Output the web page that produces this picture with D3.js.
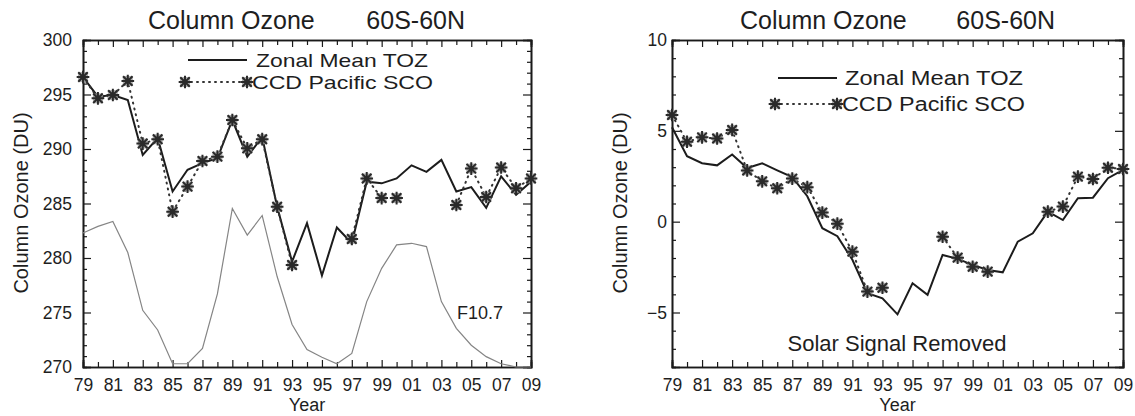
<!DOCTYPE html>
<html><head><meta charset="utf-8">
<script src="https://cdn.jsdelivr.net/npm/d3@7"></script>
<style>
body{margin:0;background:#fff}
svg{display:block}
text{font-family:"Liberation Sans",Arial,Helvetica,sans-serif;fill:#1e1e1e}
</style>
</head><body>
<svg id="c" width="1135" height="416"></svg>
<script>
// ---------- data ----------
const years = [1979,1980,1981,1982,1983,1984,1985,1986,1987,1988,1989,1990,1991,1992,1993,1994,1995,1996,1997,1998,1999,2000,2001,2002,2003,2004,2005,2006,2007,2008,2009];
const tickYears = [1979,1981,1983,1985,1987,1989,1991,1993,1995,1997,1999,2001,2003,2005,2007,2009];
const tickLabels = ["79","81","83","85","87","89","91","93","95","97","99","01","03","05","07","09"];

// left panel: column ozone (DU)
const zonalMeanTOZ = [296.6,294.8,294.95,294.5,289.45,291.0,286.1,288.1,288.7,289.15,292.66,289.3,291.1,284.7,279.66,283.2,278.4,282.8,281.35,287.0,286.85,287.3,288.5,287.9,289.0,286.1,286.5,284.6,287.5,285.8,287.0];
const ccdPacificSCO = [296.6,294.65,294.95,296.24,290.5,290.9,284.25,286.55,288.9,289.3,292.66,290.06,290.9,284.7,279.36,null,null,null,281.75,287.3,285.5,285.5,null,null,null,284.86,288.2,285.6,288.3,286.4,287.3];
const f107 = [282.3,282.9,283.35,280.5,275.2,273.4,270.3,270.3,271.7,276.7,284.55,282.1,283.9,278.3,273.9,271.6,270.9,270.3,271.25,276.0,279.05,281.2,281.35,281.05,276.0,273.55,272.0,270.95,270.3,270.0,270.0];
const leftYTicks = [270,275,280,285,290,295,300];
const leftYMinor = [271,272,273,274,276,277,278,279,281,282,283,284,286,287,288,289,291,292,293,294,296,297,298,299];

// right panel: solar signal removed (DU)
const zonalMeanTOZ_noSolar = [5.2,3.6,3.22,3.1,3.7,2.95,3.21,2.82,2.45,1.4,-0.36,-0.8,-2.1,-3.94,-4.22,-5.1,-3.39,-4.03,-1.83,-2.05,-2.38,-2.66,-2.79,-1.1,-0.64,0.55,0.09,1.29,1.32,2.39,2.85];
const ccdPacificSCO_noSolar = [5.87,4.4,4.64,4.58,5.05,2.82,2.22,1.84,2.37,1.9,0.5,-0.11,-1.65,-3.85,-3.64,null,null,null,-0.83,-1.98,-2.48,-2.75,null,null,null,0.55,0.83,2.48,2.35,2.97,2.9];
const rightYTicks = [-5,0,5,10];
const rightYMinor = [-8,-7,-6,-4,-3,-2,-1,1,2,3,4,6,7,8,9];

const titleLeftText = "Column Ozone", titleRightText = "60S-60N";
const yTitle = "Column Ozone (DU)", xTitle = "Year";
const legendNames = ["Zonal Mean TOZ","CCD Pacific SCO"];

// ---------- drawing ----------
const svg = d3.select("#c");
svg.append("rect").attr("width",1135).attr("height",416).attr("fill","#fff");

const asterisk8 = {draw(ctx, size){
  const r = Math.sqrt(size)/2, d = r*0.75;
  ctx.moveTo(-r,0); ctx.lineTo(r,0);
  ctx.moveTo(0,-r); ctx.lineTo(0,r);
  ctx.moveTo(-d,-d); ctx.lineTo(d,d);
  ctx.moveTo(-d,d); ctx.lineTo(d,-d);
}};
function marker(g, x, y){
  g.append("path").attr("transform",`translate(${x},${y})`)
    .attr("d", d3.symbol(d3.symbolSquare, 100)()).attr("fill","#9a9a9a").attr("opacity",0.8);
  g.append("path").attr("transform",`translate(${x},${y})`)
    .attr("d", d3.symbol(asterisk8, 160)()).attr("fill","none").attr("stroke","#2a2a2a").attr("stroke-width",2);
}

function panel(cfg){
  const x = d3.scaleLinear().domain([1979,2009]).range(cfg.xr);
  const y = d3.scaleLinear().domain(cfg.yd).range([367,40]);
  const g = svg.append("g");
  const [x0,x1] = cfg.xr, y0 = 40, y1 = 367;
  const minorYears = years.filter(v => !tickYears.includes(v));

  // axes (inward ticks)
  const fmt = d => tickLabels[tickYears.indexOf(d)];
  g.append("g").attr("transform",`translate(0,${y1})`)
    .call(d3.axisBottom(x).tickValues(tickYears).tickFormat(fmt).tickSize(-7).tickPadding(12));
  g.append("g").attr("transform",`translate(0,${y1})`)
    .call(d3.axisBottom(x).tickValues(minorYears).tickFormat("").tickSize(-5));
  g.append("g").attr("transform",`translate(0,${y0})`)
    .call(d3.axisTop(x).tickValues(tickYears).tickFormat("").tickSize(-7));
  g.append("g").attr("transform",`translate(0,${y0})`)
    .call(d3.axisTop(x).tickValues(minorYears).tickFormat("").tickSize(-5));
  g.append("g").attr("transform",`translate(${x0},0)`)
    .call(d3.axisLeft(y).tickValues(cfg.yTicks).tickFormat(d3.format("d")).tickSize(-8).tickPadding(cfg.yPad));
  g.append("g").attr("transform",`translate(${x0},0)`)
    .call(d3.axisLeft(y).tickValues(cfg.yMinor).tickFormat("").tickSize(-4));
  g.append("g").attr("transform",`translate(${x1},0)`)
    .call(d3.axisRight(y).tickValues(cfg.yTicks).tickFormat("").tickSize(-8));
  g.append("g").attr("transform",`translate(${x1},0)`)
    .call(d3.axisRight(y).tickValues(cfg.yMinor).tickFormat("").tickSize(-4));
  g.selectAll(".domain").attr("stroke","#1a1a1a").attr("stroke-width",1.6);
  g.selectAll(".tick line").attr("stroke","#1a1a1a").attr("stroke-width",1.2);
  g.selectAll(".tick text").attr("font-size",17.5).attr("fill","#1e1e1e")
    .attr("font-family",'"Liberation Sans",Arial,sans-serif');

  // series
  const line = d3.line().defined(d => d[1] != null).x(d => x(d[0])).y(d => y(d[1]));
  if (cfg.f107){
    g.append("path").datum(years.map((yr,i)=>[yr,cfg.f107[i]])).attr("d",line)
      .attr("fill","none").attr("stroke","#858585").attr("stroke-width",1.2);
  }
  g.append("path").datum(years.map((yr,i)=>[yr,cfg.zonal[i]])).attr("d",line)
    .attr("fill","none").attr("stroke","#1c1c1c").attr("stroke-width",2);
  g.append("path").datum(years.map((yr,i)=>[yr,cfg.ccd[i]])).attr("d",line)
    .attr("fill","none").attr("stroke","#333").attr("stroke-width",2)
    .attr("stroke-dasharray","1,5").attr("stroke-linecap","round");
  years.forEach((yr,i)=>{ if(cfg.ccd[i]!=null) marker(g, x(yr), y(cfg.ccd[i])); });

  // titles
  g.append("text").attr("x",cfg.t1x).attr("y",29).attr("font-size",25).text(titleLeftText);
  g.append("text").attr("x",cfg.t2x).attr("y",29).attr("font-size",25).attr("text-anchor","end").text(titleRightText);
  g.append("text").attr("transform",`translate(${cfg.ytx},203) rotate(-90)`)
    .attr("text-anchor","middle").attr("dy","0.35em").attr("font-size",20).text(yTitle);
  g.append("text").attr("x",(x0+x1)/2).attr("y",411).attr("text-anchor","middle").attr("font-size",18).text(xTitle);

  // legend
  const L = cfg.leg;
  g.append("line").attr("x1",L.lx0).attr("x2",L.lx1).attr("y1",L.r1).attr("y2",L.r1)
    .attr("stroke","#1c1c1c").attr("stroke-width",2);
  g.append("text").attr("x",L.t1).attr("y",L.r1).attr("dy","0.36em").attr("font-size",L.fs)
    .attr("textLength",L.w1).attr("lengthAdjust","spacingAndGlyphs").text(legendNames[0]);
  g.append("line").attr("x1",L.mx0).attr("x2",L.mx1).attr("y1",L.r2).attr("y2",L.r2)
    .attr("stroke","#333").attr("stroke-width",2).attr("stroke-dasharray","1,5").attr("stroke-linecap","round");
  marker(g, L.mx0, L.r2); marker(g, L.mx1, L.r2);
  g.append("text").attr("x",L.t2).attr("y",L.r2).attr("dy","0.36em").attr("font-size",L.fs)
    .attr("textLength",L.w2).attr("lengthAdjust","spacingAndGlyphs").text(legendNames[1]);
  return g;
}

const gl = panel({xr:[83,531], yd:[270,300], yTicks:leftYTicks, yMinor:leftYMinor, yPad:11,
  zonal:zonalMeanTOZ, ccd:ccdPacificSCO, f107:f107, t1x:148, t2x:465, ytx:21,
  leg:{lx0:188,lx1:247,r1:60,t1:256,w1:172,mx0:185,mx1:247,r2:82,t2:252,w2:181,fs:18.5}});
gl.append("text").attr("x",457).attr("y",319).attr("font-size",18).text("F10.7");

const gr = panel({xr:[672,1123], yd:[-8,10], yTicks:rightYTicks, yMinor:rightYMinor, yPad:5,
  zonal:zonalMeanTOZ_noSolar, ccd:ccdPacificSCO_noSolar, f107:null, t1x:740, t2x:1055, ytx:620,
  leg:{lx0:778,lx1:837,r1:78,t1:845,w1:178,mx0:775,mx1:837,r2:104,t2:842,w2:183,fs:20}});
gr.append("text").attr("x",897).attr("y",343).attr("dy","0.36em").attr("text-anchor","middle").attr("font-size",22).text("Solar Signal Removed");
</script>
</body></html>
